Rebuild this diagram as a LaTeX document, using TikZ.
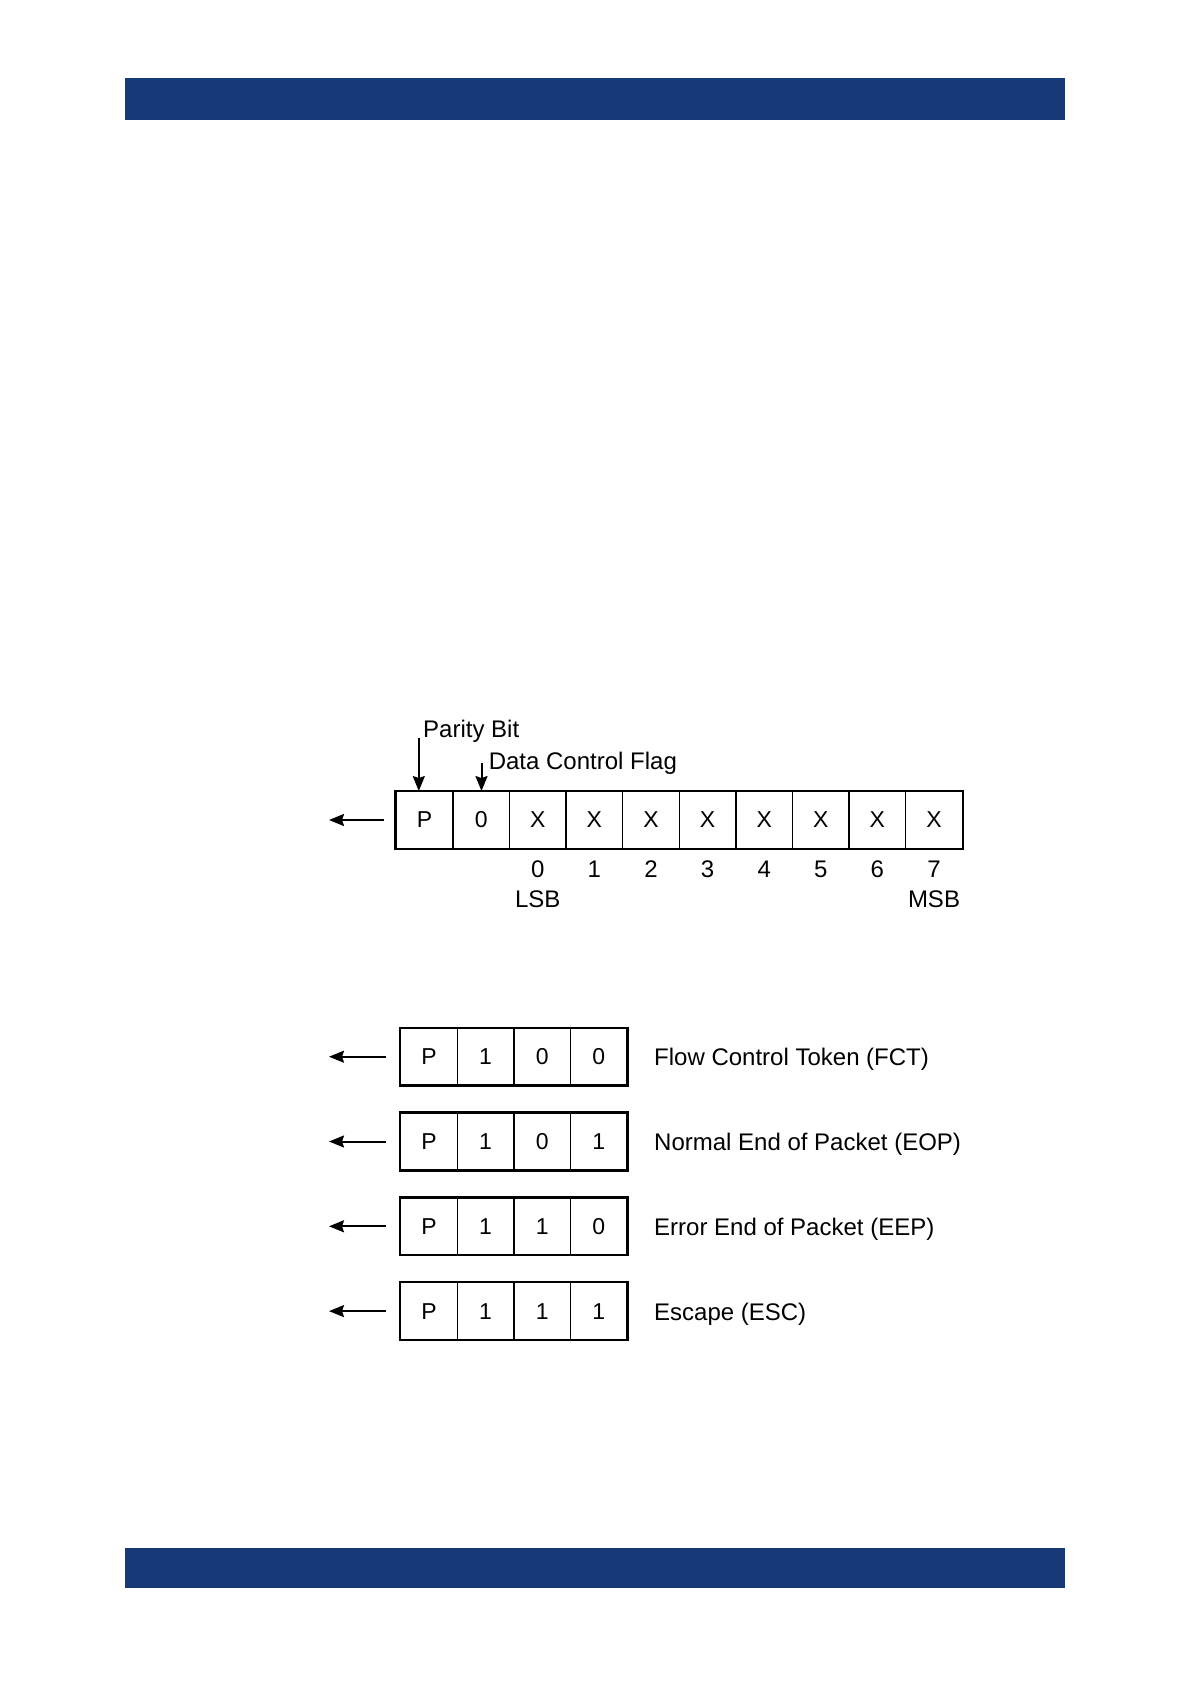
\documentclass[tikz,border=0pt]{standalone}
\usepackage{fontspec}
\setmainfont{Liberation Sans}
\usetikzlibrary{arrows.meta, positioning, calc}
\definecolor{barblue}{RGB}{24,57,120}

\begin{document}
\begin{tikzpicture}[
    x=1pt, y=-1pt,
    >={Stealth[length=15pt, width=12pt, inset=2pt]},
    bit/.style={draw, line width=1.3pt, minimum width=56.6pt, minimum height=56.6pt, inner sep=0pt, font=\fontsize{23}{27}\selectfont},
    frame/.style={draw, line width=2.4pt},
    arr/.style={->, line width=2pt},
    lbl/.style={inner sep=0pt, font=\fontsize{24}{28}\selectfont},
]
\useasboundingbox (0,0) rectangle (1191,1684);
% ----- the two blue page bars
\fill[barblue] (124.6,78.4) rectangle (1065.3,120.3);
\fill[barblue] (124.6,1547.5) rectangle (1065.3,1588.3);
% ----- the data character: parity bit, flag and eight data bits
\node[bit] (r1) at (424.6,820) {P};
\node[bit] (r2) at (481.2,820) {0};
\foreach \i in {3,...,10} { \node[bit] (r\i) at ({396.3+56.6*\i-28.3},820) {X}; }
\draw[frame] (r1.north west) rectangle (r10.south east);
\coordinate (out0) at (329,820);
\draw[arr] ([xshift=-12pt]r1.west) -- (out0);
\node[lbl, anchor=west] (parity) at (423,731) {Parity Bit};
\coordinate (pb) at (418.8,738);
\draw[arr] (pb) -- (pb |- r1.north);
\node[lbl, anchor=west] (flag) at (488.6,763.5) {Data Control Flag};
\coordinate (df) at (481.5,763);
\draw[arr] (df) -- (df |- r2.north);
\foreach \i [count=\j from 3] in {0,...,7} { \node[lbl] (n\i) at (r\j |- 0,869) {\i}; }
\node[lbl] (lsb) at (n0 |- 0,899.5) {LSB};
\node[lbl] (msb) at (n7 |- 0,899.5) {MSB};
% ----- the four control characters
\foreach \a/\b/\c/\name [count=\r] in {1/0/0/Flow Control Token (FCT), 1/0/1/Normal End of Packet (EOP), 1/1/0/Error End of Packet (EEP), 1/1/1/Escape (ESC)} {
  \node[bit] (c\r-1) at (429,{971.9+84.8*\r}) {P};
  \node[bit] (c\r-2) at (485.6,{971.9+84.8*\r}) {\a};
  \node[bit] (c\r-3) at (542.2,{971.9+84.8*\r}) {\b};
  \node[bit] (c\r-4) at (598.8,{971.9+84.8*\r}) {\c};
  \draw[frame] (c\r-1.north west) rectangle (c\r-4.south east);
  \node[lbl, anchor=west] (name\r) at (654,{974.9+84.8*\r}) {\name};
  \coordinate (out\r) at (329,{971.9+84.8*\r});
  \draw[arr] ([xshift=-14pt]c\r-1.west) -- (out\r);
}
\end{tikzpicture}
\end{document}
